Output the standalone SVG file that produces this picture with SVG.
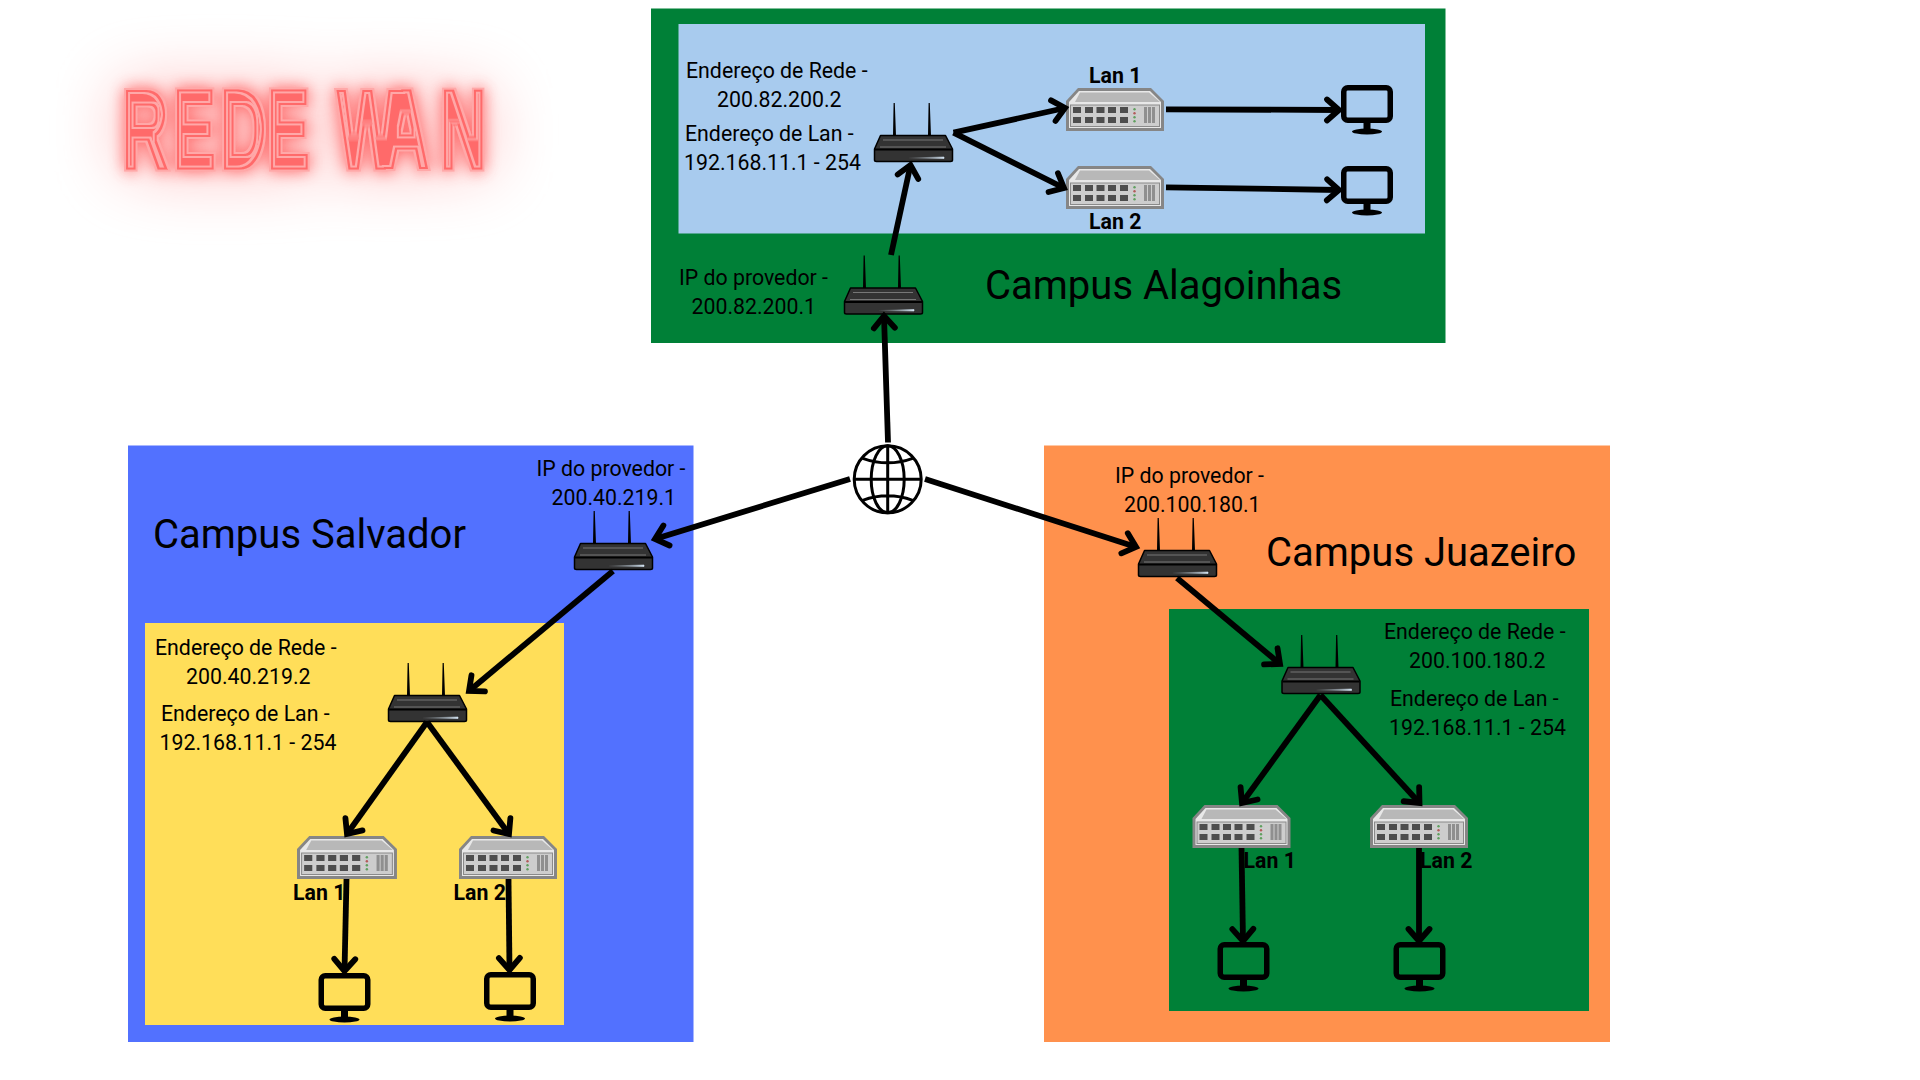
<svg xmlns="http://www.w3.org/2000/svg" xmlns:xlink="http://www.w3.org/1999/xlink" width="1920" height="1080" viewBox="0 0 1920 1080">
<style>
text{font-family:Roboto,"Liberation Sans",sans-serif;fill:#000}
.t{font-size:21.3px}
.b{font-size:21.3px;font-weight:700}
.c{font-size:40px}
.w{stroke:#000;stroke-width:5.8;fill:none;stroke-linecap:butt;marker-end:url(#a)}
.neon{font-family:"Liberation Sans",sans-serif;font-weight:700;font-size:112px;fill:#fff;stroke:#fff;stroke-width:7}
</style>
<defs>
<marker id="a" markerUnits="userSpaceOnUse" markerWidth="40" markerHeight="40" viewBox="-20 -20 40 40" refX="0" refY="0" orient="auto" overflow="visible">
<path d="M-12,-10.500 L0,0 L-12,10.500" fill="none" stroke="#000" stroke-width="5.8" stroke-linecap="round" stroke-linejoin="miter"/>
</marker>
<linearGradient id="gl" x1="0" x2="1" y1="0" y2="0"><stop offset="0" stop-color="#3a3a3a"/><stop offset="1" stop-color="#d5e6f5"/></linearGradient>
<filter id="neon" filterUnits="userSpaceOnUse" x="0" y="0" width="640" height="280" color-interpolation-filters="sRGB">
<feFlood flood-color="#ff4a4a" result="red"/>
<feFlood flood-color="#ff6a6a" result="core"/>
<feFlood flood-color="#ffa8a8" result="pink"/>
<feComposite in="red" in2="SourceAlpha" operator="in" result="base"/>
<feGaussianBlur in="base" stdDeviation="34" result="b1"/>
<feComponentTransfer in="b1" result="b1a"><feFuncA type="linear" slope="0.5"/></feComponentTransfer>
<feGaussianBlur in="base" stdDeviation="8" result="b2"/>
<feComponentTransfer in="b2" result="b2a"><feFuncA type="linear" slope="0.8"/></feComponentTransfer>
<feComposite in="pink" in2="SourceAlpha" operator="in" result="outer"/>
<feMorphology in="SourceAlpha" operator="erode" radius="2" result="e1"/>
<feComposite in="core" in2="e1" operator="in" result="l1"/>
<feMorphology in="SourceAlpha" operator="erode" radius="4.2" result="e2"/>
<feComposite in="pink" in2="e2" operator="in" result="l2"/>
<feMorphology in="SourceAlpha" operator="erode" radius="6.2" result="e3"/>
<feComposite in="core" in2="e3" operator="in" result="l3"/>
<feGaussianBlur in="outer" stdDeviation="0.6" result="o"/>
<feMerge><feMergeNode in="b1a"/><feMergeNode in="b2a"/><feMergeNode in="o"/><feMergeNode in="l1"/><feMergeNode in="l2"/><feMergeNode in="l3"/></feMerge>
</filter>
<g id="router">
<path d="M19,33 L19.600,0 L20.800,0 L22,33 Z M54,33 L54.600,0 L55.800,0 L57,33 Z" fill="#000"/>
<path d="M6.500,32.500 L71.500,32.500 L78.500,46 L78.500,57 Q78.500,58.500 76.500,58.500 L2.500,58.500 Q0.500,58.500 0.500,57 L0.500,46 Z" fill="#333" stroke="#000" stroke-width="1.5" stroke-linejoin="round"/>
<path d="M1,46.500 H78" stroke="#000" stroke-width="2"/>
<path d="M9,37 H69 M6,44 H72" stroke="#777" stroke-width="1.2"/>
<path d="M35,55 L70,54 L70,55.500 Z" fill="url(#gl)" stroke="url(#gl)" stroke-width="0.6"/>
</g>
<g id="switch">
<path d="M12,0 H85 L98,13 V43 H0 V13 Z" fill="#868686"/>
<path d="M13,3 H84 L95,14 V40 H3 V14 Z" fill="#e8e8e8"/>
<path d="M14,4.500 H83 L94,14 H9 Z" fill="#b8b8b8"/>
<rect x="4.500" y="17" width="89" height="21.500" fill="#cdcdcd" stroke="#8a8a8a"/>
<path d="M7,19 h8 v6 h-8z M19,19 h8 v6 h-8z M30.500,19 h8 v6 h-8z M42,19 h8 v6 h-8z M54,19 h8 v6 h-8z M7,29 h8 v6 h-8z M19,29 h8 v6 h-8z M30.500,29 h8 v6 h-8z M42,29 h8 v6 h-8z M54,29 h8 v6 h-8z" fill="#4d4d4d"/>
<circle cx="68.500" cy="21.300" r="1.200" fill="#5fa05f"/><circle cx="68.500" cy="25.300" r="1.200" fill="#b45a5a"/><circle cx="68.500" cy="29.300" r="1.200" fill="#5fa05f"/><circle cx="68.500" cy="33.300" r="1.200" fill="#5fa05f"/>
<path d="M78,19 h3 v16 h-3z M82,19 h3 v16 h-3z M86,19 h3 v16 h-3z" fill="#8f8f8f"/>
</g>
<g id="monitor">
<rect x="2.750" y="2.750" width="46.500" height="32.500" rx="4" fill="none" stroke="#000" stroke-width="5.500"/>
<rect x="22.500" y="38" width="7" height="7" fill="#000"/>
<ellipse cx="26" cy="46.500" rx="15" ry="3" fill="#000"/>
</g>
</defs>

<g id="title" filter="url(#neon)"><text class="neon" transform="scale(.58 1)" y="168.500" x="210 298 379 460 520 580 660 758">REDE WAN</text></g>

<g id="campus-alagoinhas">
<rect x="651" y="8.500" width="794.500" height="334.500" fill="#008037"/>
<rect x="678.500" y="24" width="746.500" height="209.500" fill="#a8cbee"/>
<text class="c" x="985" y="299">Campus Alagoinhas</text>
</g>
<g id="campus-salvador">
<rect x="128" y="445.500" width="565.500" height="596.500" fill="#5271ff"/>
<rect x="145" y="623" width="419" height="402" fill="#ffde59"/>
<text class="c" x="153" y="548">Campus Salvador</text>
</g>
<g id="campus-juazeiro">
<rect x="1044" y="445.500" width="566" height="596.500" fill="#ff914d"/>
<rect x="1169" y="609" width="420" height="402" fill="#008037"/>
<text class="c" x="1266" y="566">Campus Juazeiro</text>
</g>

<g id="alag-roteador-lan"><use href="#router" x="874" y="103"/><text class="t" x="686" y="78">Endereço de Rede -</text><text class="t" x="717" y="107">200.82.200.2</text><text class="t" x="685" y="141">Endereço de Lan -</text><text class="t" x="684" y="170">192.168.11.1 - 254</text></g>
<g id="alag-roteador-provedor"><use href="#router" x="844" y="255.500"/><text class="t" x="679" y="285">IP do provedor -</text><text class="t" x="691.500" y="314">200.82.200.1</text></g>
<g id="alag-lan1"><use href="#switch" x="1066" y="88"/><text class="b" x="1089" y="83">Lan 1</text></g>
<g id="alag-lan2"><use href="#switch" x="1066" y="166"/><text class="b" x="1089" y="229">Lan 2</text></g>
<g id="alag-pc1"><use href="#monitor" x="1341" y="85"/></g>
<g id="alag-pc2"><use href="#monitor" x="1341" y="166"/></g>

<g id="sal-roteador-provedor"><use href="#router" x="574" y="511"/><text class="t" x="536.500" y="476">IP do provedor -</text><text class="t" x="551.500" y="504.500">200.40.219.1</text></g>
<g id="sal-roteador-lan"><use href="#router" x="388" y="663"/><text class="t" x="155" y="654.500">Endereço de Rede -</text><text class="t" x="186" y="683.500">200.40.219.2</text><text class="t" x="161" y="720.500">Endereço de Lan -</text><text class="t" x="159.500" y="749.500">192.168.11.1 - 254</text></g>
<g id="sal-lan1"><use href="#switch" transform="translate(297 836) scale(1.02 1)"/><text class="b" x="293" y="899.500">Lan 1</text></g>
<g id="sal-lan2"><use href="#switch" transform="translate(459 836)"/><text class="b" x="453.500" y="899.500">Lan 2</text></g>
<g id="sal-pc1"><use href="#monitor" x="318.500" y="973"/></g>
<g id="sal-pc2"><use href="#monitor" x="484" y="972"/></g>

<g id="jua-roteador-provedor"><use href="#router" x="1138" y="518"/><text class="t" x="1115" y="483">IP do provedor -</text><text class="t" x="1124" y="512">200.100.180.1</text></g>
<g id="jua-roteador-lan"><use href="#router" x="1281.500" y="635"/><text class="t" x="1384" y="639">Endereço de Rede -</text><text class="t" x="1409" y="667.500">200.100.180.2</text><text class="t" x="1390" y="706">Endereço de Lan -</text><text class="t" x="1389" y="734.500">192.168.11.1 - 254</text></g>
<g id="jua-lan1"><use href="#switch" x="1192.500" y="805"/><text class="b" x="1243.500" y="868">Lan 1</text></g>
<g id="jua-lan2"><use href="#switch" x="1370" y="805"/><text class="b" x="1420" y="868">Lan 2</text></g>
<g id="jua-pc1"><use href="#monitor" x="1217.500" y="942"/></g>
<g id="jua-pc2"><use href="#monitor" x="1393.500" y="942"/></g>

<g id="internet" fill="none" stroke="#000" stroke-width="3">
<circle cx="887.700" cy="479.300" r="33.500"/>
<ellipse cx="887.700" cy="479.300" rx="16.500" ry="33.500"/>
<path d="M887.700,446 V513 M854.500,479.300 H921 M862.700,458.300 Q887.700,467.300 912.700,458.300 M862.700,500.300 Q887.700,491.300 912.700,500.300"/>
</g>

<g id="connectors">
<path class="w" d="M888,442.500 L884,316"/>
<path class="w" d="M891,255 L910.500,165"/>
<path class="w" d="M953.500,132.700 L1065,108"/>
<path class="w" d="M953.500,132.700 L1064,188"/>
<path class="w" d="M1166,109.300 L1339,110"/>
<path class="w" d="M1166,187.300 L1339,190"/>
<path class="w" d="M850,479 L655,539"/>
<path class="w" d="M613,571 L469,691"/>
<path class="w" d="M427,722 L347,834"/>
<path class="w" d="M427,722 L509,834"/>
<path class="w" d="M346.500,879 L344.500,971"/>
<path class="w" d="M508.500,879 L509.500,970"/>
<path class="w" d="M925,479 L1136,547"/>
<path class="w" d="M1177,578 L1280,664"/>
<path class="w" d="M1320.500,695 L1242,803"/>
<path class="w" d="M1320.500,695 L1419.500,803"/>
<path class="w" d="M1241.500,848 L1243,941"/>
<path class="w" d="M1419,848 L1419,941"/>
</g>
</svg>
